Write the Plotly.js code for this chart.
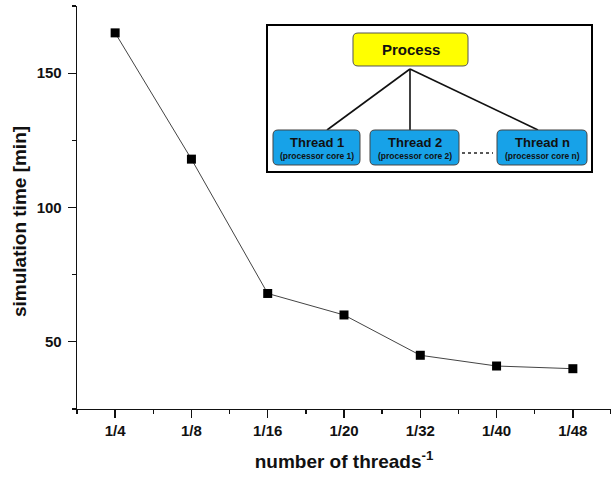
<!DOCTYPE html>
<html>
<head>
<meta charset="utf-8">
<script src="https://cdn.plot.ly/plotly-3.0.1.min.js"></script>
<style>html,body{margin:0;padding:0;background:#fff;}#chart{width:611px;height:477px;}</style>
</head>
<body>
<div id="chart"></div>
<script>
// Data
const categories = ["1/4", "1/8", "1/16", "1/20", "1/32", "1/40", "1/48"];
const categoryPos = [1, 2, 3, 4, 5, 6, 7];
const simTime = [165, 118, 68, 60, 45, 41, 40];
const yMajorTicks = [50, 100, 150];
const yMinorTicks = [25, 75, 125, 175];
const xMinorTicks = [0.5, 1.5, 2.5, 3.5, 4.5, 5.5, 6.5, 7.5];

const W = 611, H = 477;
const M = {l: 77, r: 0, t: 6, b: 68};
const PW = W - M.l - M.r, PH = H - M.t - M.b;
// pixel -> paper helpers for inset diagram
const px = x => (x - M.l) / PW;
const py = y => (H - M.b - y) / PH;

function roundRect(x0, y0, x1, y1, r) {
  const X = v => px(v).toFixed(5), Y = v => py(v).toFixed(5);
  return `M${X(x0 + r)},${Y(y0)} L${X(x1 - r)},${Y(y0)} Q${X(x1)},${Y(y0)} ${X(x1)},${Y(y0 + r)} ` +
         `L${X(x1)},${Y(y1 - r)} Q${X(x1)},${Y(y1)} ${X(x1 - r)},${Y(y1)} ` +
         `L${X(x0 + r)},${Y(y1)} Q${X(x0)},${Y(y1)} ${X(x0)},${Y(y1 - r)} ` +
         `L${X(x0)},${Y(y0 + r)} Q${X(x0)},${Y(y0)} ${X(x0 + r)},${Y(y0)} Z`;
}

const blue = "#17A2E8", yellow = "#FFFF00";
const shapes = [
  {type: "rect", xref: "paper", yref: "paper", x0: px(267), x1: px(592), y0: py(172), y1: py(25),
   line: {color: "#000", width: 2}, fillcolor: "#fff", layer: "above"},
  {type: "line", xref: "paper", yref: "paper", x0: px(410), y0: py(69), x1: px(327), y1: py(130), line: {color: "#111", width: 1.6}},
  {type: "line", xref: "paper", yref: "paper", x0: px(410), y0: py(69), x1: px(410), y1: py(130), line: {color: "#111", width: 1.6}},
  {type: "line", xref: "paper", yref: "paper", x0: px(410), y0: py(69), x1: px(538), y1: py(130), line: {color: "#111", width: 1.6}},
  {type: "line", xref: "paper", yref: "paper", x0: px(462), y0: py(153), x1: px(493), y1: py(153), line: {color: "#222", width: 1.6, dash: "dot"}},
  {type: "path", xref: "paper", yref: "paper", path: roundRect(353, 33, 468, 66, 5), fillcolor: yellow, line: {color: "#555", width: 1}},
  {type: "path", xref: "paper", yref: "paper", path: roundRect(273, 130, 360, 165, 5), fillcolor: blue, line: {color: "#444", width: 1}},
  {type: "path", xref: "paper", yref: "paper", path: roundRect(370, 130, 459, 165, 5), fillcolor: blue, line: {color: "#444", width: 1}},
  {type: "path", xref: "paper", yref: "paper", path: roundRect(497, 130, 587, 165, 5), fillcolor: blue, line: {color: "#444", width: 1}}
];

const fam = "Liberation Sans, Arial, sans-serif";
const ann = (x, y, text, size) => ({xref: "paper", yref: "paper", x: px(x), y: py(y), text: text, showarrow: false,
  xanchor: "center", yanchor: "middle", font: {family: fam, size: size, color: "#111"}});
const annotations = [
  ann(410.5, 49.5, "<b>Process</b>", 15),
  ann(316.5, 142.5, "<b>Thread 1</b>", 13),
  ann(414.5, 142.5, "<b>Thread 2</b>", 13),
  ann(542, 142.5, "<b>Thread n</b>", 13),
  ann(316.5, 156, "<b>(processor core 1)</b>", 8.5),
  ann(414.5, 156, "<b>(processor core 2)</b>", 8.5),
  ann(542, 156, "<b>(processor core n)</b>", 8.5),
  Object.assign(ann(20, 222, "<b>simulation time [min]</b>", 19), {textangle: -90})
];

const trace = {
  x: categoryPos, y: simTime, type: "scatter", mode: "lines+markers",
  line: {color: "#444", width: 1},
  marker: {symbol: "square", size: 9, color: "#000"},
  cliponaxis: false
};

const layout = {
  width: W, height: H, margin: M,
  paper_bgcolor: "#fff", plot_bgcolor: "#fff",
  showlegend: false,
  font: {family: fam, color: "#111"},
  xaxis: {
    range: [0.5, 7.5], tickmode: "array", tickvals: categoryPos, ticktext: categories,
    ticks: "outside", ticklen: 8, tickwidth: 1.3, tickcolor: "#111",
    showline: true, linecolor: "#111", linewidth: 1.3, showgrid: false, zeroline: false,
    tickfont: {family: fam, size: 15, weight: "bold", color: "#111"},
    minor: {tickmode: "array", tickvals: xMinorTicks, ticks: "outside", ticklen: 4, tickwidth: 1.3, tickcolor: "#111", showgrid: false},
    title: {text: "<b>number of threads<sup>-1</sup></b>", font: {family: fam, size: 19, color: "#111"}, standoff: 16}
  },
  yaxis: {
    range: [25, 175], tickmode: "array", tickvals: yMajorTicks,
    ticks: "outside", ticklen: 8, tickwidth: 1.3, tickcolor: "#111",
    ticklabelstandoff: 3,
    showline: true, linecolor: "#111", linewidth: 1.3, showgrid: false, zeroline: false,
    tickfont: {family: fam, size: 15, weight: "bold", color: "#111"},
    minor: {tickmode: "array", tickvals: yMinorTicks, ticks: "outside", ticklen: 4, tickwidth: 1.3, tickcolor: "#111", showgrid: false}
  },
  shapes: shapes,
  annotations: annotations
};

Plotly.newPlot("chart", [trace], layout, {displayModeBar: false, staticPlot: true});
</script>
</body>
</html>
